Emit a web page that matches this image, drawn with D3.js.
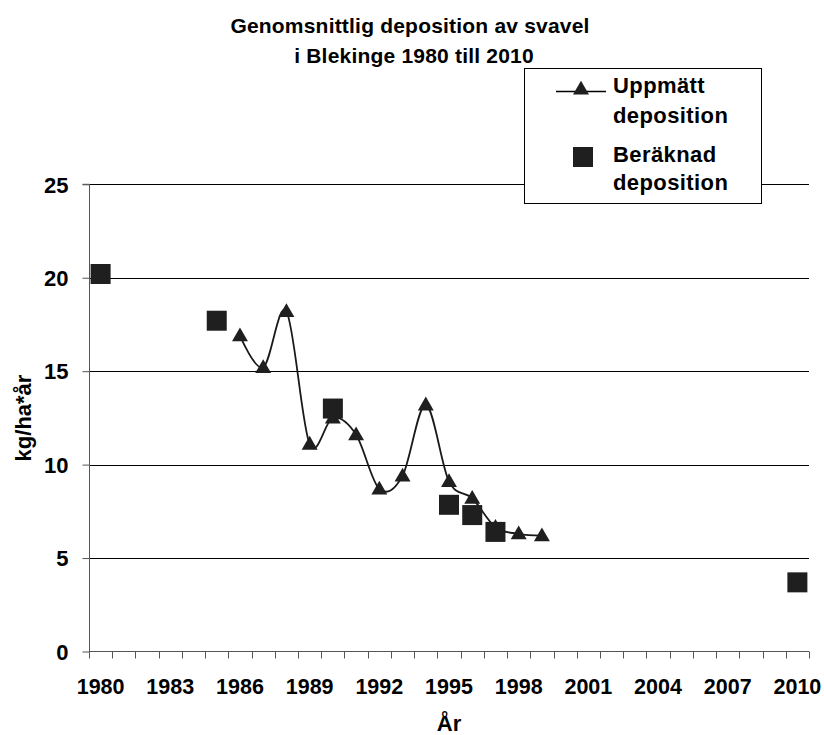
<!DOCTYPE html>
<html>
<head>
<meta charset="utf-8">
<script src="https://cdn.jsdelivr.net/npm/d3@7"></script>
<style>
  body { margin: 0; background: #fff; }
  text { font-family: "Liberation Sans", Arial, sans-serif; font-weight: bold; fill: #000; }
</style>
</head>
<body>
<svg width="824" height="735"></svg>
<script>
// years on the category axis
var years = d3.range(1980, 2011);
var yearLabels = [1980, 1983, 1986, 1989, 1992, 1995, 1998, 2001, 2004, 2007, 2010];
var yTicks = [0, 5, 10, 15, 20, 25];

// Uppmätt deposition (triangles, smooth line)
var measuredYears = [1986, 1987, 1988, 1989, 1990, 1991, 1992, 1993, 1994, 1995, 1996, 1997, 1998, 1999];
var measuredValues = [16.9, 15.2, 18.2, 11.1, 12.5, 11.6, 8.7, 9.4, 13.2, 9.1, 8.2, 6.65, 6.3, 6.2];

// Beräknad deposition (squares)
var calcYears = [1980, 1985, 1990, 1995, 1996, 1997, 2010];
var calcValues = [20.2, 17.7, 13.0, 7.85, 7.3, 6.4, 3.7];

var svg = d3.select("svg");

var x = d3.scaleBand().domain(years).range([89, 809]);
var y = d3.scaleLinear().domain([0, 25]).range([651.5, 184.3]);

var measured = measuredYears.map(function (d, i) { return { year: d, value: measuredValues[i] }; });
var calc = calcYears.map(function (d, i) { return { year: d, value: calcValues[i] }; });

function cx(d) { return x(d.year) + x.bandwidth() / 2; }

// gridlines
svg.append("g")
    .selectAll("line")
    .data(yTicks.slice(1))
    .enter()
    .append("line")
    .attr("x1", 89).attr("x2", 809)
    .attr("y1", function (d) { return Math.round(y(d)) + 0.5; })
    .attr("y2", function (d) { return Math.round(y(d)) + 0.5; })
    .attr("stroke", "#000")
    .attr("stroke-width", 1);

// y axis
var yAxis = svg.append("g")
    .attr("transform", "translate(89.5,0)")
    .call(d3.axisLeft(y).tickValues(yTicks).tickSize(7).tickPadding(14));
yAxis.select(".domain").attr("stroke", "#555").attr("d", "M-7," + y(25) + "H0V" + y(0));
yAxis.selectAll(".tick line").attr("stroke", "#555");
yAxis.selectAll(".tick text")
    .style("font-size", "22px")
    .style("font-family", "Liberation Sans, Arial, sans-serif")
    .style("font-weight", "bold")
    .attr("fill", "#000")
    .attr("dy", "0.35em");

// x axis
var xAxis = svg.append("g")
    .attr("transform", "translate(0,651.5)")
    .call(d3.axisBottom(x).tickValues(yearLabels).tickSize(0).tickPadding(27));
xAxis.select(".domain").attr("stroke", "#555").attr("d", "M89,0H809");
xAxis.selectAll(".tick text")
    .style("font-size", "21.5px")
    .style("font-family", "Liberation Sans, Arial, sans-serif")
    .style("font-weight", "bold")
    .attr("fill", "#000");
xAxis.selectAll(".boundary")
    .data(years.concat([2011]))
    .enter()
    .append("line")
    .attr("class", "boundary")
    .attr("x1", function (d) { return Math.round(d === 2011 ? x.range()[1] : x(d)) + 0.5; })
    .attr("x2", function (d) { return Math.round(d === 2011 ? x.range()[1] : x(d)) + 0.5; })
    .attr("y1", 0).attr("y2", 7)
    .attr("stroke", "#555");

// smooth measured line
var line = d3.line()
    .x(cx)
    .y(function (d) { return y(d.value); })
    .curve(d3.curveCardinal.tension(0));

svg.append("path")
    .datum(measured)
    .attr("d", line)
    .attr("fill", "none")
    .attr("stroke", "#1a1a1a")
    .attr("stroke-width", 1.8);

var tri = d3.symbol().type(d3.symbolTriangle).size(110);

svg.append("g")
    .selectAll("path")
    .data(measured)
    .enter()
    .append("path")
    .attr("d", tri)
    .attr("transform", function (d) { return "translate(" + cx(d) + "," + (y(d.value) + 1) + ")"; })
    .attr("fill", "#1f1f1f");

svg.append("g")
    .selectAll("rect")
    .data(calc)
    .enter()
    .append("rect")
    .attr("x", function (d) { return cx(d) - 10; })
    .attr("y", function (d) { return y(d.value) - 10; })
    .attr("width", 20)
    .attr("height", 20)
    .attr("fill", "#1f1f1f");

// title
svg.append("text")
    .attr("x", 410).attr("y", 33)
    .attr("text-anchor", "middle")
    .style("font-size", "21px")
    .style("letter-spacing", "0.2px")
    .text("Genomsnittlig deposition av svavel");
svg.append("text")
    .attr("x", 414).attr("y", 63)
    .attr("text-anchor", "middle")
    .style("font-size", "21px")
    .style("letter-spacing", "0.2px")
    .text("i Blekinge 1980 till 2010");

// axis titles
svg.append("text")
    .attr("x", 449).attr("y", 731)
    .attr("text-anchor", "middle")
    .style("font-size", "22px")
    .text("År");
svg.append("text")
    .attr("transform", "translate(31,418) rotate(-90)")
    .attr("text-anchor", "middle")
    .style("font-size", "22px")
    .text("kg/ha*år");

// legend
var legend = svg.append("g");
legend.append("rect")
    .attr("x", 524.5).attr("y", 68.5)
    .attr("width", 237).attr("height", 135)
    .attr("fill", "#fff")
    .attr("stroke", "#000");
legend.append("line")
    .attr("x1", 556).attr("x2", 606)
    .attr("y1", 91.5).attr("y2", 91.5)
    .attr("stroke", "#000").attr("stroke-width", 1.5);
legend.append("path")
    .attr("d", tri)
    .attr("transform", "translate(581,90)")
    .attr("fill", "#1f1f1f");
legend.append("rect")
    .attr("x", 573).attr("y", 147)
    .attr("width", 20).attr("height", 20)
    .attr("fill", "#1f1f1f");
var legendText = [["Uppmätt", 93], ["deposition", 123], ["Beräknad", 162], ["deposition", 190]];
legend.selectAll("text.lg")
    .data(legendText)
    .enter()
    .append("text")
    .attr("class", "lg")
    .attr("x", 613)
    .attr("y", function (d) { return d[1]; })
    .style("font-size", "22px")
    .style("letter-spacing", "0.4px")
    .text(function (d) { return d[0]; });
</script>
</body>
</html>
